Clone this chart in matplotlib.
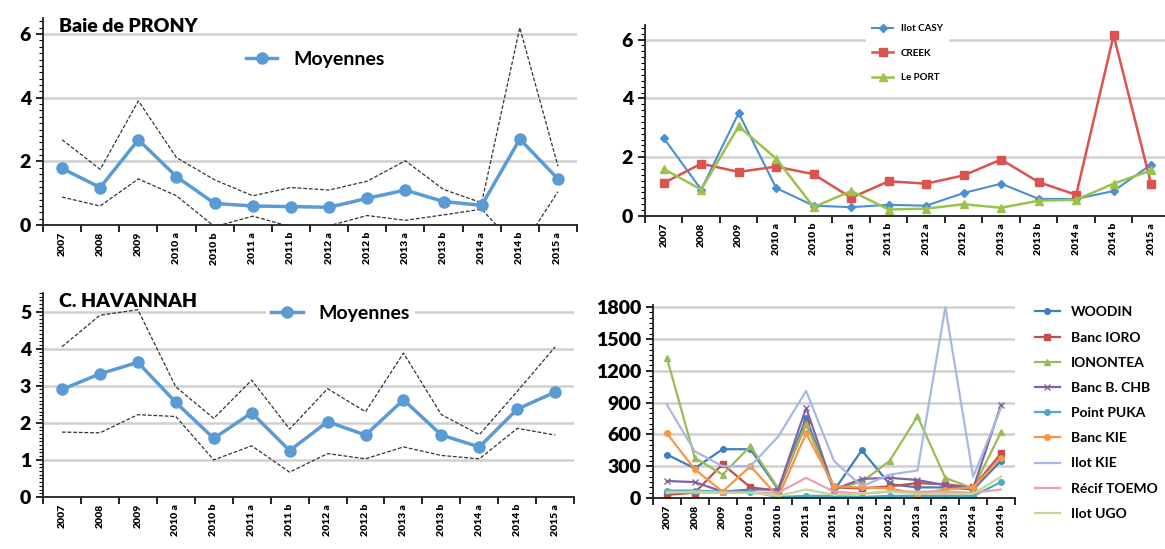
import numpy as np
import matplotlib.pyplot as plt
from matplotlib.ticker import FixedLocator, MultipleLocator

plt.rcParams['font.family'] = ['Lato', 'DejaVu Sans']
plt.rcParams['font.weight'] = 'bold'

periods = ["2007", "2008", "2009", "2010 a", "2010 b", "2011 a", "2011 b",
           "2012 a", "2012 b", "2013 a", "2013 b", "2014 a", "2014 b", "2015 a"]

# Baie de PRONY
prony_mean = [1.78, 1.18, 2.68, 1.52, 0.68, 0.60, 0.58, 0.56, 0.84, 1.10, 0.74, 0.62, 2.70, 1.45]
prony_high = [2.68, 1.75, 3.90, 2.12, 1.42, 0.92, 1.18, 1.10, 1.38, 2.02, 1.12, 0.70, 6.20, 1.85]
prony_low = [0.88, 0.60, 1.45, 0.92, -0.05, 0.28, -0.05, -0.02, 0.30, 0.15, 0.32, 0.50, -0.80, 1.05]

# stations of the bay
casy = [2.65, 0.90, 3.50, 0.95, 0.35, 0.30, 0.38, 0.35, 0.78, 1.10, 0.58, 0.58, 0.85, 1.75]
creek = [1.12, 1.78, 1.50, 1.68, 1.42, 0.62, 1.18, 1.10, 1.38, 1.92, 1.15, 0.72, 6.15, 1.08]
port = [1.60, 0.90, 3.05, 1.95, 0.30, 0.85, 0.22, 0.25, 0.40, 0.28, 0.52, 0.55, 1.10, 1.55]

# C. HAVANNAH
hav_mean = [2.90, 3.32, 3.63, 2.55, 1.58, 2.27, 1.25, 2.03, 1.67, 2.62, 1.67, 1.35, 2.37, 2.83]
hav_high = [4.05, 4.90, 5.05, 2.97, 2.12, 3.15, 1.83, 2.92, 2.30, 3.88, 2.22, 1.68, 2.85, 4.05]
hav_low = [1.75, 1.73, 2.22, 2.17, 1.00, 1.38, 0.67, 1.17, 1.03, 1.35, 1.12, 1.03, 1.85, 1.67]

# stations of Havannah (2007 .. 2014 b)
hav_periods = periods[:13]
hav_names = ["WOODIN", "Banc IORO", "IONONTEA", "Banc B. CHB", "Point PUKA",
             "Banc KIE", "Ilot KIE", "Récif TOEMO", "Ilot UGO"]
woodin = [410, 280, 460, 460, 80, 750, 70, 450, 130, 100, 100, 80, 350]
ioro = [30, 50, 320, 100, 70, 700, 100, 90, 110, 140, 130, 100, 420]
ionontea = [1320, 380, 220, 490, 90, 700, 90, 150, 350, 770, 190, 90, 620]
chb = [160, 150, 60, 80, 80, 850, 80, 180, 190, 170, 120, 90, 880]
puka = [70, 70, 60, 60, 10, 20, 20, 10, 20, 20, 20, 20, 150]
bkie = [610, 270, 60, 300, 10, 610, 110, 100, 90, 40, 80, 100, 380]
ikie = [880, 440, 300, 300, 580, 1010, 350, 110, 220, 260, 1800, 200, 850]
toemo = [60, 50, 50, 50, 50, 190, 60, 40, 60, 60, 60, 50, 80]
ugo = [50, 60, 50, 50, 20, 80, 30, 40, 60, 40, 40, 40, 200]
hav_series = [woodin, ioro, ionontea, chb, puka, bkie, ikie, toemo, ugo]
hav_colors = ["#3d7ebf", "#c0504d", "#9bbb59", "#8064a2", "#4bacc6",
              "#f79646", "#a9b8e2", "#e8a3aa", "#c3d69b"]
hav_markers = ["o", "s", "^", "x", "o", "o", None, None, None]

BLUE = "#5b9bd5"
GRID = "#d0d0d0"


def style(ax, labels, ylim, major, minor, ysize=14):
    n = len(labels)
    x = np.arange(n)
    ax.set_xlim(-0.5, n - 0.5)
    ax.set_ylim(*ylim)
    ax.xaxis.set_major_locator(FixedLocator(np.arange(n + 1) - 0.5))
    ax.xaxis.set_minor_locator(FixedLocator(x))
    ax.set_xticklabels([], minor=False)
    ax.set_xticklabels(labels, minor=True, rotation=90, fontsize=7.5, fontweight='heavy')
    ax.tick_params(axis='x', which='minor', length=0, pad=5)
    ax.tick_params(axis='x', which='major', length=5, width=1.2)
    ax.yaxis.set_major_locator(MultipleLocator(major))
    ax.yaxis.set_minor_locator(MultipleLocator(minor))
    ax.tick_params(axis='y', which='major', length=5, width=1.2, labelsize=ysize)
    ax.tick_params(axis='y', which='minor', length=3, width=0.8)
    for t in ax.get_yticklabels():
        t.set_fontweight('heavy')
    ax.grid(axis='y', which='major', color=GRID, linewidth=1.8)
    ax.set_axisbelow(True)
    for s in ['top', 'right']:
        ax.spines[s].set_visible(False)
    for s in ['left', 'bottom']:
        ax.spines[s].set_linewidth(1.3)
        ax.spines[s].set_color("#222222")


fig = plt.figure(figsize=(11.65, 5.49), dpi=100)

# top left
ax1 = fig.add_axes([0.0369, 0.590, 0.4584, 0.377])
x = np.arange(len(periods))
ax1.plot(x, prony_high, ls='--', color='#333333', lw=0.9, dashes=(3, 1.5))
ax1.plot(x, prony_low, ls='--', color='#333333', lw=0.9, dashes=(3, 1.5))
ax1.plot(x, prony_mean, color=BLUE, lw=2.5, marker='o', ms=8, label="Moyennes")
style(ax1, periods, (0, 6.5), 2, 0.2)
ax1.legend(loc='center', bbox_to_anchor=(0.51, 0.80), frameon=False,
           prop={'size': 14, 'weight': 'bold'}, handlelength=1.6)
ax1.text(0.03, 1.0, "Baie de PRONY", transform=ax1.transAxes, fontsize=14,
         fontweight='heavy', va='top', ha='left')

# top right
ax2 = fig.add_axes([0.5536, 0.6066, 0.4506, 0.348])
ax2.plot(x, casy, color="#4a90d0", lw=1.5, marker='D', ms=4, label="Ilot CASY")
ax2.plot(x, creek, color="#d9534f", lw=1.8, marker='s', ms=6, label="CREEK")
ax2.plot(x, port, color="#9bc24a", lw=1.8, marker='^', ms=6, label="Le PORT")
style(ax2, periods, (0, 6.5), 2, 0.2)
leg2 = ax2.legend(loc='upper center', bbox_to_anchor=(0.50, 1.06), frameon=True,
                  prop={'size': 7, 'weight': 'bold'}, labelspacing=1.6,
                  handlelength=2.2, borderpad=0.6)
leg2.get_frame().set_edgecolor('none')
leg2.get_frame().set_facecolor('white')
leg2.get_frame().set_alpha(1)

# bottom left
ax3 = fig.add_axes([0.0369, 0.0947, 0.456, 0.3716])
ax3.plot(x, hav_high, ls='--', color='#333333', lw=0.9, dashes=(3, 1.5))
ax3.plot(x, hav_low, ls='--', color='#333333', lw=0.9, dashes=(3, 1.5))
ax3.plot(x, hav_mean, color=BLUE, lw=2.5, marker='o', ms=8, label="Moyennes")
style(ax3, periods, (0, 5.5), 1, 0.1)
leg3 = ax3.legend(loc='center', bbox_to_anchor=(0.56, 0.90), frameon=True,
                  prop={'size': 14, 'weight': 'bold'}, handlelength=1.6,
                  borderpad=0.3)
leg3.get_frame().set_edgecolor('none')
leg3.get_frame().set_alpha(1)
ax3.text(0.03, 1.0, "C. HAVANNAH", transform=ax3.transAxes, fontsize=14,
         fontweight='heavy', va='top', ha='left')

# bottom right
ax4 = fig.add_axes([0.5605, 0.0929, 0.3107, 0.3515])
xh = np.arange(len(hav_periods))
for name, vals, c, m in zip(hav_names, hav_series, hav_colors, hav_markers):
    ax4.plot(xh, vals, color=c, lw=1.6, marker=m, ms=4, label=name)
style(ax4, hav_periods, (0, 1820), 300, 50)
ax4.legend(loc='center left', bbox_to_anchor=(1.02, 0.44), frameon=False,
           prop={'size': 10, 'weight': 'bold'}, labelspacing=0.95,
           handlelength=1.8)

fig.savefig("out.png", dpi=100)
